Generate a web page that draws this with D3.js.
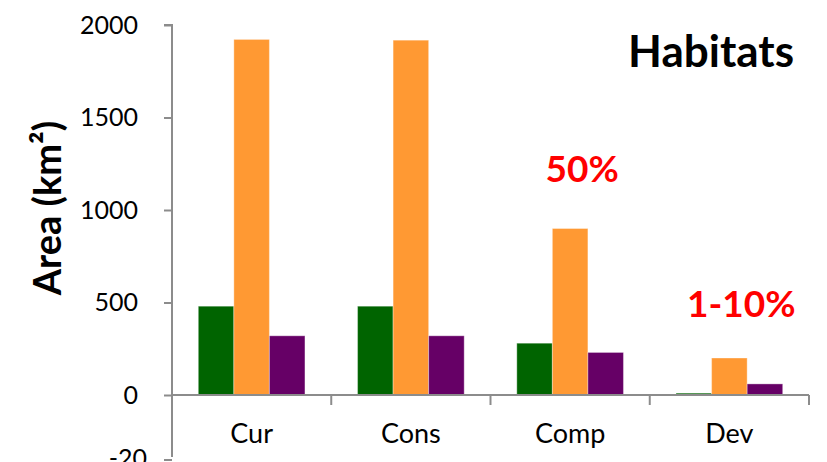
<!DOCTYPE html>
<html><head><meta charset="utf-8">
<script src="https://cdn.jsdelivr.net/npm/d3@7/dist/d3.min.js"></script>
<style>body{margin:0;background:#fff}svg{display:block}text{font-family:Lato,"Open Sans",sans-serif}</style>
</head><body><svg id="c" width="827" height="462"></svg>
<script>
const categories = ["Cur","Cons","Comp","Dev"];
const seriesNames = ["A","B","C"];
const seriesColors = ["#006400","#FF9933","#660066"];
const valuesA = [480, 480, 280, 10];
const valuesB = [1922, 1918, 900, 200];
const valuesC = [320, 320, 230, 60];
const yTicks = [0, 500, 1000, 1500, 2000];
const annotations = [{cat:"Comp", text:"50%", y:1150}, {cat:"Dev", text:"1-10%", y:420}];

const svg = d3.select("#c");
const mLeft = 172, mRight = 809, mTop = 25, mBottom = 395;
const x = d3.scaleBand().domain(categories).range([mLeft, mRight]).paddingInner(0).paddingOuter(0);
const inner = d3.scaleBand().domain(seriesNames).range([0, x.bandwidth()]).paddingOuter(0.74).paddingInner(0);
const y = d3.scaleLinear().domain([0, 2000]).range([mBottom, mTop]);
const series = [valuesA, valuesB, valuesC];

// bars
series.forEach((vals, si) => {
  svg.append("g").selectAll("rect").data(categories).join("rect")
    .attr("x", c => x(c) + inner(seriesNames[si]))
    .attr("width", inner.bandwidth())
    .attr("y", (c,i) => y(vals[i]))
    .attr("height", (c,i) => y(0) - y(vals[i]))
    .attr("fill", seriesColors[si])
    .attr("stroke", "rgba(255,255,255,0.35)").attr("stroke-width", 1);
});

// y axis
const ya = svg.append("g").attr("transform", `translate(${mLeft},0)`)
  .call(d3.axisLeft(y).tickValues(yTicks).tickSize(8).tickPadding(26).tickFormat(d3.format("d")));
ya.selectAll("path,line").attr("stroke", "#8c8c8c").attr("stroke-width", 2);
ya.select(".domain").attr("d", `M-8,${mTop}H0V${mBottom+62}`);
ya.selectAll("text").attr("font-size", 25).attr("fill", "#000").attr("font-family","Lato");

// extra partial tick/label from chart below
svg.append("line").attr("x1", mLeft-8).attr("x2", mLeft).attr("y1", 460).attr("y2", 460).attr("stroke","#8c8c8c").attr("stroke-width",2);
svg.append("text").attr("x", 147).attr("y", 467).attr("text-anchor","end").attr("font-size",25).text("-20");

// x axis
const xa = svg.append("g").attr("transform", `translate(0,${mBottom})`)
  .call(d3.axisBottom(x).tickSize(0).tickPadding(30));
xa.select(".domain").attr("stroke", "#8c8c8c").attr("stroke-width", 2).attr("d", `M${mLeft},0H${mRight}`);
xa.selectAll("text").attr("font-size", 27).attr("fill", "#000").attr("font-family","Lato").attr("dy","0.66em");
svg.append("g").selectAll("line").data(categories.concat(["_end"])).join("line")
  .attr("x1", (c,i) => mLeft + i * x.step()).attr("x2", (c,i) => mLeft + i * x.step())
  .attr("y1", mBottom).attr("y2", mBottom + 10)
  .attr("stroke", "#8c8c8c").attr("stroke-width", 2);

// y label
svg.append("text").attr("transform", "translate(61,208) rotate(-90)")
  .attr("text-anchor","middle").attr("font-size", 38).attr("font-weight","bold").text("Area (km²)");

// title
svg.append("text").attr("x", 794).attr("y", 67).attr("text-anchor","end")
  .attr("font-size", 44).attr("font-weight","bold").text("Habitats");

// annotations
svg.append("g").selectAll("text").data(annotations).join("text")
  .attr("x", d => x(d.cat) + x.bandwidth()/2 + 12)
  .attr("y", d => y(d.y))
  .attr("text-anchor","middle").attr("font-size", 37).attr("font-weight","bold").attr("fill","#ff0000")
  .text(d => d.text);
</script></body></html>
